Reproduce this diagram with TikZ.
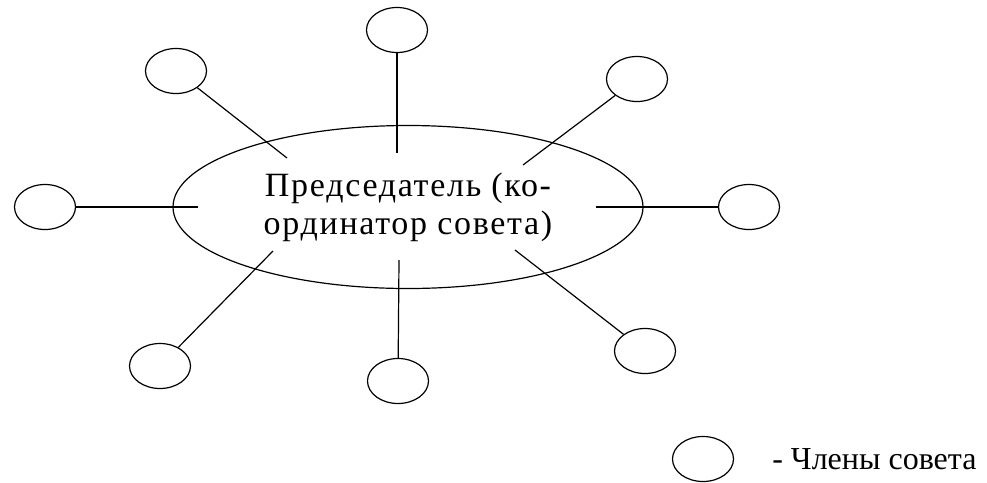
\documentclass[tikz,border=0pt]{standalone}
\usepackage{fontspec}
\setmainfont{Liberation Serif}
\usetikzlibrary{shapes.geometric}
\usetikzlibrary{positioning}

\begin{document}
\begin{tikzpicture}
  [
    x = 1pt, y = -1pt,
    every node/.style = {font = \rmfamily\fontsize{34}{38}\selectfont},
    chair/.style = {draw, line width = 1.2pt, ellipse, minimum width = 470pt,
                    minimum height = 163pt, align = center, inner sep = 0pt,
                    font = \rmfamily\fontsize{34}{38}\selectfont\addfontfeature{LetterSpace=5}},
    member/.style = {draw, line width = 1.2pt, ellipse, minimum width = 61pt,
                     minimum height = 45pt, inner sep = 0pt},
    spoke/.style = {line width = 1.2pt},
  ]
  \useasboundingbox (0,0) rectangle (987,482);

  \node[chair] (chair) at (408,207) {Председатель (ко-\\ординатор совета)};

  % inner ends of the spokes
  \coordinate (in_top) at (397,153);
  \coordinate (in_topleft) at (287,158);
  \coordinate (in_topright) at (523,165);
  \coordinate (in_left) at (198,207);
  \coordinate (in_right) at (596,207);
  \coordinate (in_botleft) at (273,251);
  \coordinate (in_bot) at (399,260);
  \coordinate (in_botright) at (515,250);

  \node[member] (m_top) at (397,30) {}
    edge[spoke] (in_top);
  \node[member] (m_topleft) at (176,71) {}
    edge[spoke] (in_topleft);
  \node[member] (m_topright) at (637,79) {}
    edge[spoke] (in_topright);
  \node[member] (m_left) at (45,207) {}
    edge[spoke] (in_left);
  \node[member] (m_right) at (749,207) {}
    edge[spoke] (in_right);
  \node[member] (m_botleft) at (160,366) {}
    edge[spoke] (in_botleft);
  \node[member] (m_bot) at (398,381) {}
    edge[spoke] (in_bot);
  \node[member] (m_botright) at (645,351) {}
    edge[spoke] (in_botright);

  \node[member] (legend) at (703,459) {};
  \node[inner sep = 0pt, font = \rmfamily\fontsize{32}{36}\selectfont]
    [right = 38pt of legend] (legend_text) {- Члены совета};
\end{tikzpicture}
\end{document}
